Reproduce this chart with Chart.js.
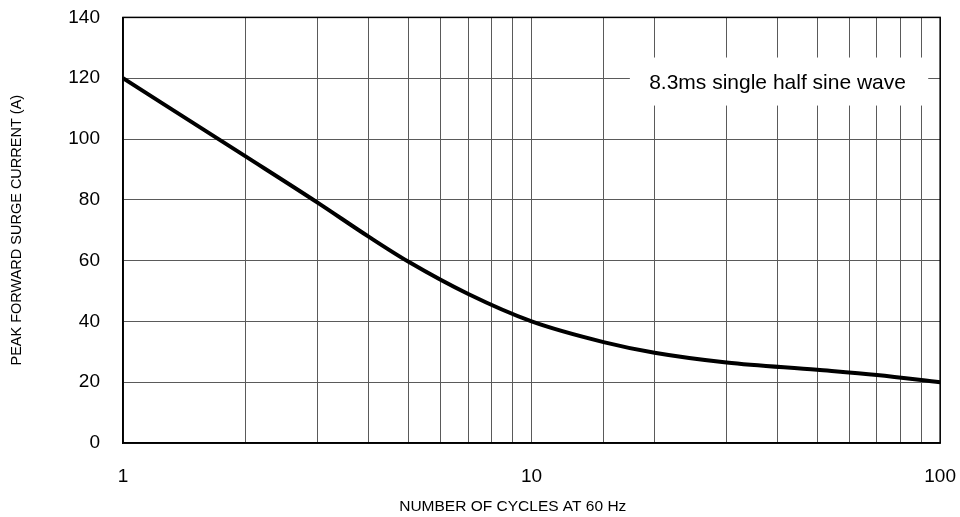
<!DOCTYPE html>
<html>
<head>
<meta charset="utf-8">
<script src="https://cdn.jsdelivr.net/npm/chart.js@4/dist/chart.umd.min.js"></script>
<style>
html,body{margin:0;padding:0;background:#fff;overflow:hidden;}
#wrap{position:relative;width:960px;height:517px;overflow:hidden;}
#c{position:absolute;left:0;top:-17px;}
</style>
</head>
<body>
<div id="wrap"><canvas id="c" width="978" height="534"></canvas></div>
<script>
const cycles = [1, 2, 3, 4, 5, 7, 10, 15, 20, 30, 50, 70, 100];
const surgeCurrent = [120, 94.2, 79, 67.8, 59.6, 49, 40, 33.2, 29.7, 26.5, 24.1, 22.4, 20];
const yTicks = [0, 20, 40, 60, 80, 100, 120, 140];
const xLabels = [1, 10, 100];
const noteText = '8.3ms single half sine wave';
const xTitle = 'NUMBER OF CYCLES AT 60 Hz';

const FONT = '"Liberation Sans", Arial, sans-serif';

const notePlugin = {
  id: 'note',
  beforeDatasetsDraw(chart) {
    const {ctx, scales} = chart;
    const x0 = scales.x.getPixelForValue(17.4);
    const x1 = scales.x.getPixelForValue(93.5);
    const y0 = scales.y.getPixelForValue(126.8);
    const y1 = scales.y.getPixelForValue(111);
    ctx.save();
    ctx.fillStyle = '#fff';
    ctx.fillRect(x0, y0, x1 - x0, y1 - y0);
    ctx.fillStyle = '#000';
    ctx.font = '21px ' + FONT;
    ctx.textAlign = 'center';
    ctx.textBaseline = 'middle';
    ctx.fillText(noteText, scales.x.getPixelForValue(40), scales.y.getPixelForValue(118.3));
    ctx.restore();
  }
};

const xTitlePlugin = {
  id: 'xTitle',
  afterDraw(chart) {
    const {ctx, chartArea: a} = chart;
    ctx.save();
    ctx.fillStyle = '#000';
    ctx.font = '15.5px ' + FONT;
    ctx.textAlign = 'center';
    ctx.textBaseline = 'middle';
    ctx.fillText(xTitle, a.left + (a.right - a.left) * 0.477, chart.height - 10);
    ctx.restore();
  }
};

new Chart(document.getElementById('c'), {
  type: 'line',
  data: {
    datasets: [{
      data: cycles.map((c, i) => ({x: c, y: surgeCurrent[i]})),
      borderColor: '#000',
      borderWidth: 4,
      pointRadius: 0,
      cubicInterpolationMode: 'monotone',
      fill: false
    }]
  },
  options: {
    responsive: false,
    animation: false,
    devicePixelRatio: 1,
    layout: {padding: {left: 0, right: 0, top: 0, bottom: 0}},
    plugins: {legend: {display: false}, tooltip: {enabled: false}},
    scales: {
      x: {
        type: 'logarithmic',
        min: 1, max: 100,
        afterFit: s => { s.height = 74; },
        grid: {color: '#5a5a5a', lineWidth: 1, drawTicks: false},
        border: {color: '#000', width: 1.5},
        ticks: {
          color: '#000', font: {size: 19, family: FONT}, padding: 22,
          autoSkip: false, maxRotation: 0,
          callback: v => xLabels.includes(v) ? String(v) : ''
        },
        title: {display: false}
      },
      y: {
        min: 0, max: 140,
        afterFit: s => { s.width = 123; },
        afterBuildTicks: s => { s.ticks = yTicks.map(v => ({value: v})); },
        grid: {color: '#5a5a5a', lineWidth: 1, drawTicks: false},
        border: {color: '#000', width: 1.5},
        ticks: {color: '#000', font: {size: 19, family: FONT}, padding: 23},
        title: {display: true, text: 'PEAK FORWARD SURGE CURRENT (A)', color: '#000', font: {size: 14.5, family: FONT}, padding: {top: 8, bottom: 0}}
      }
    }
  },
  plugins: [notePlugin, xTitlePlugin, {
    id: 'frame',
    afterDraw(chart) {
      const {ctx, chartArea: a} = chart;
      ctx.save();
      ctx.strokeStyle = '#000';
      ctx.lineWidth = 1.5;
      ctx.strokeRect(a.left, a.top, a.right - a.left, a.bottom - a.top);
      ctx.restore();
    }
  }]
});
</script>
</body>
</html>
